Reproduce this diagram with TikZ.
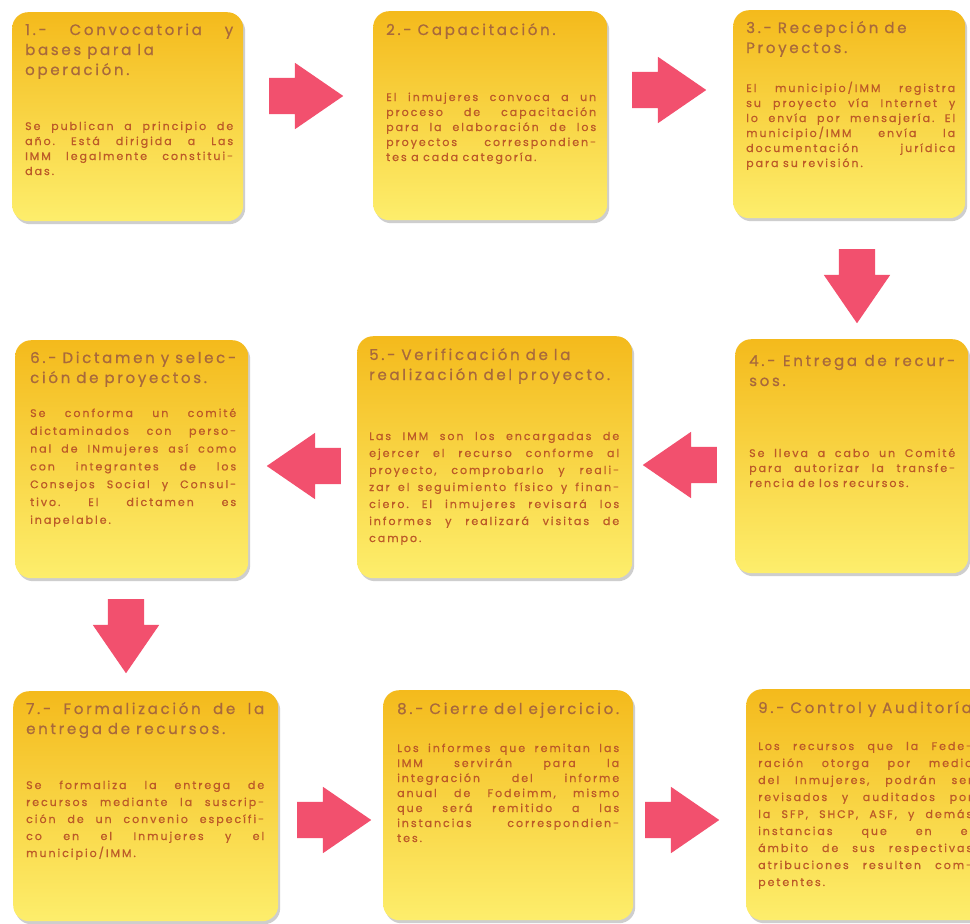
\documentclass[tikz,border=0pt]{standalone}
\usepackage{fontspec}
\setmainfont{Poppins}
\newfontfamily\ttlfam{Poppins}[LetterSpace=18,FakeBold=0.8]
\newfontfamily\bdyfam{Poppins}[LetterSpace=18,FakeBold=0.8]
\usetikzlibrary{shapes.arrows,shadows,calc}
\definecolor{arrowpink}{HTML}{F2506E}
\definecolor{boxtop}{HTML}{F4BA1C}
\definecolor{boxbot}{HTML}{FDEE6C}
\definecolor{ttlcol}{HTML}{A8693C}
\definecolor{bdycol}{HTML}{BC5A28}
\newdimen\wsp
\DeclareRobustCommand\ttlsetup{\ttlfam\fontsize{15}{20}\selectfont\wsp=6pt\relax}
\DeclareRobustCommand\bdysetup[1]{\bdyfam\fontsize{11}{#1}\selectfont\wsp=4.5pt\relax}
\def\JLloop#1 #2\JLstop{#1\ifx\relax#2\relax\else\hskip 1\wsp plus 1fil\relax\JLloop#2\JLstop\fi}
\def\NLloop#1 #2\JLstop{#1\ifx\relax#2\relax\else\hskip 1\wsp\relax\NLloop#2\JLstop\fi}
\newcommand\JL[1]{\hbox to \hsize{\JLloop#1 \JLstop}\par}
\newcommand\NL[1]{\hbox{\NLloop#1 \JLstop}\par}
\tikzset{
  procbox/.style={rectangle, rounded corners=16pt, top color=boxtop, bottom color=boxbot,
    draw=none, inner sep=0pt, anchor=north west,
    drop shadow={shadow xshift=2pt, shadow yshift=-3pt, opacity=.35, fill=black!55}},
  ttl/.style={anchor=base west, inner sep=0pt, text=ttlcol, font=\ttlsetup},
  bdy/.style={anchor=base west, inner sep=0pt, text=bdycol, font=\bdysetup{15}},
  bdyw/.style={bdy, font=\bdysetup{17}},
  bdyx/.style={bdy, font=\bdysetup{17.8}},
  blockarrow/.style={single arrow, fill=arrowpink, draw=none, inner xsep=0pt, inner ysep=18pt,
    outer sep=0pt, minimum height=74pt, single arrow head extend=15pt, single arrow tip angle=69}
}
\begin{document}
\begin{tikzpicture}[x=1pt,y=-1pt]
\fill[white] (0,0) rectangle (970,924);
\useasboundingbox (0,0) rectangle (970,924);
% boxes
\node[procbox, minimum width=231pt, minimum height=209pt] (b1) at (12,12) {};
\node[procbox, minimum width=234pt, minimum height=209pt] (b2) at (373,11) {};
\node[procbox, minimum width=232pt, minimum height=208pt] (b3) at (733,10) {};
\node[procbox, minimum width=233pt, minimum height=234pt] (b4) at (735,339) {};
\node[procbox, minimum width=275pt, minimum height=242pt] (b5) at (357,336) {};
\node[procbox, minimum width=233pt, minimum height=238pt] (b6) at (15,340) {};
\node[procbox, minimum width=265pt, minimum height=230pt] (b7) at (13,691) {};
\node[procbox, minimum width=250pt, minimum height=230pt] (b8) at (383,690) {};
\node[procbox, minimum width=250pt, minimum height=231pt] (b9) at (746,689) {};
% box 1
\node[ttl, text width=208pt] (t1) at ($(b1.north west)+(13,23)$)
  {\JL{1.- Convocatoria y}\NL{bases para la}\NL{operación.}};
\node[bdy, text width=208pt] (d1) at ($(b1.north west)+(13,118)$)
  {\JL{Se publican a principio de}\JL{año. Está dirigida a Las}\JL{IMM legalmente constitui-}\NL{das.}};
% box 2
\node[ttl, text width=210pt] (t2) at ($(b2.north west)+(13,24)$)
  {\NL{2.- Capacitación.}};
\node[bdy, text width=210pt] (d2) at ($(b2.north west)+(13,90)$)
  {\JL{El inmujeres convoca a un}\JL{proceso de capacitación}\JL{para la elaboración de los}\JL{proyectos correspondien-}\NL{tes a cada categoría.}};
% box 3
\node[ttl, text width=209pt] (t3) at ($(b3.north west)+(13,23)$)
  {\NL{3.- Recepción de}\NL{Proyectos.}};
\node[bdy, text width=209pt] (d3) at ($(b3.north west)+(13,82)$)
  {\JL{El municipio/IMM registra}\JL{su proyecto vía Internet y}\JL{lo envía por mensajería. El}\JL{municipio/IMM envía la}\JL{documentación jurídica}\NL{para su revisión.}};
% box 4
\node[ttl, text width=206pt] (t4) at ($(b4.north west)+(14,27)$)
  {\JL{4.- Entrega de recur-}\NL{sos.}};
\node[bdy, text width=206pt] (d4) at ($(b4.north west)+(14,118)$)
  {\JL{Se lleva a cabo un Comité}\JL{para autorizar la transfe-}\NL{rencia de los recursos.}};
% box 5
\node[ttl, text width=250pt] (t5) at ($(b5.north west)+(12,24)$)
  {\NL{5.- Verificación de la}\NL{realización del proyecto.}};
\node[bdyw, text width=250pt] (d5) at ($(b5.north west)+(12,104)$)
  {\JL{Las IMM son los encargadas de}\JL{ejercer el recurso conforme al}\JL{proyecto, comprobarlo y reali-}\JL{zar el seguimiento físico y finan-}\JL{ciero. El inmujeres revisará los}\JL{informes y realizará visitas de}\NL{campo.}};
% box 6
\node[ttl, text width=206pt] (t6) at ($(b6.north west)+(15,23)$)
  {\JL{6.- Dictamen y selec-}\NL{ción de proyectos.}};
\node[bdyx, text width=206pt] (d6) at ($(b6.north west)+(15,77)$)
  {\JL{Se conforma un comité}\JL{dictaminados con perso-}\JL{nal de INmujeres así como}\JL{con integrantes de los}\JL{Consejos Social y Consul-}\JL{tivo. El dictamen es}\NL{inapelable.}};
% box 7
\node[ttl, text width=238pt] (t7) at ($(b7.north west)+(13,23)$)
  {\JL{7.- Formalización de la}\NL{entrega de recursos.}};
\node[bdyw, text width=238pt] (d7) at ($(b7.north west)+(13,98)$)
  {\JL{Se formaliza la entrega de}\JL{recursos mediante la suscrip-}\JL{ción de un convenio específi-}\JL{co en el Inmujeres y el}\NL{municipio/IMM.}};
% box 8
\node[ttl, text width=222pt] (t8) at ($(b8.north west)+(14,24)$)
  {\NL{8.- Cierre del ejercicio.}};
\node[bdy, text width=222pt] (d8) at ($(b8.north west)+(14,62)$)
  {\JL{Los informes que remitan las}\JL{IMM servirán para la}\JL{integración del informe}\JL{anual de Fodeimm, mismo}\JL{que será remitido a las}\JL{instancias correspondien-}\NL{tes.}};
% box 9
\node[ttl, text width=214pt] (t9) at ($(b9.north west)+(12,24)$)
  {\NL{9.- Control y Auditoría.}};
\node[bdyw, text width=214pt] (d9) at ($(b9.north west)+(12,61)$)
  {\JL{Los recursos que la Fede-}\JL{ración otorga por medio}\JL{del Inmujeres, podrán ser}\JL{revisados y auditados por}\JL{la SFP, SHCP, ASF, y demás}\JL{instancias que en el}\JL{ámbito de sus respectivas}\JL{atribuciones resulten com-}\NL{petentes.}};
% arrows
\node[blockarrow] (a12) at (293,96) {};
\node[blockarrow] (a23) at (656,90) {};
\node[blockarrow, rotate=-90] (a34) at (857,273) {};
\node[blockarrow, rotate=180] (a45) at (693,465) {};
\node[blockarrow, rotate=180] (a56) at (317,466) {};
\node[blockarrow, rotate=-90] (a67) at (126,623) {};
\node[blockarrow] (a78) at (321,820) {};
\node[blockarrow] (a89) at (669,820) {};
\end{tikzpicture}
\end{document}
